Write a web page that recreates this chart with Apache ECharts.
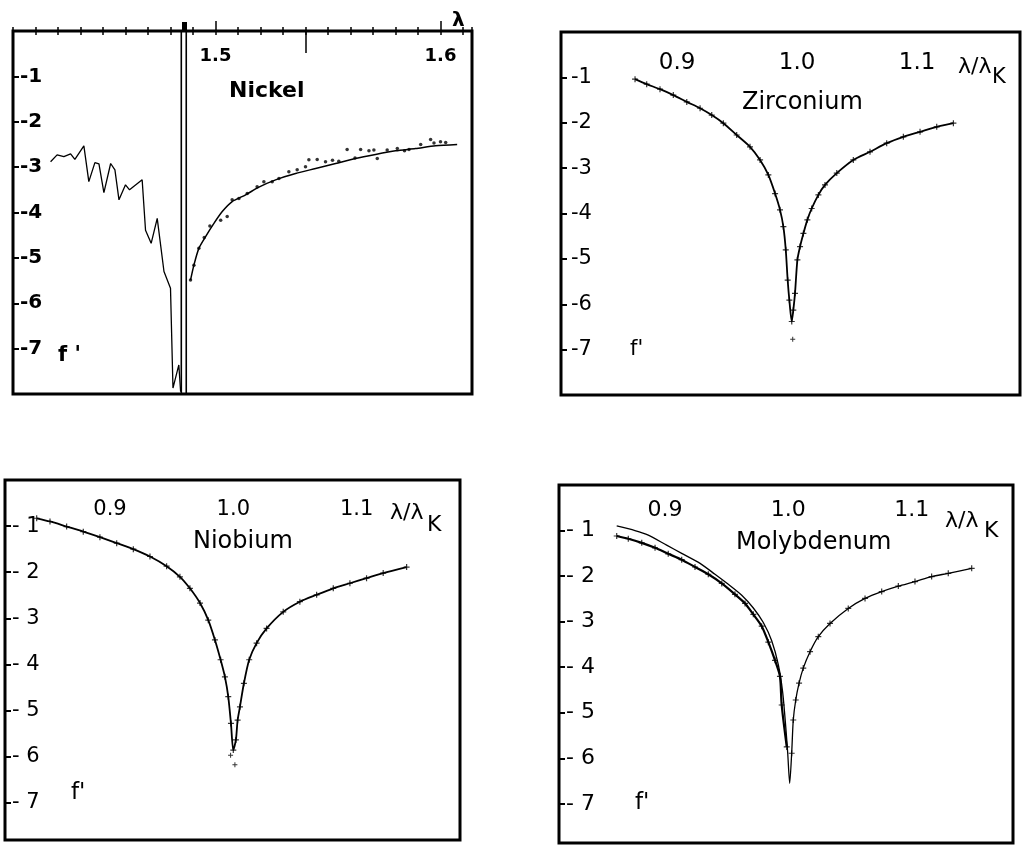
<!DOCTYPE html>
<html><head><meta charset="utf-8">
<script src="https://cdn.jsdelivr.net/npm/echarts@6/dist/echarts.min.js"></script>
<style>html,body{margin:0;padding:0;background:#fff}#c{width:1023px;height:847px}</style>
</head><body><div id="c"></div><script>
// ---------- Nickel (x = wavelength λ) ----------
const niExpX = [1.4267,1.4296,1.4326,1.4356,1.4375,1.4415,1.4437,1.4464,1.4482,1.4504,1.4534,1.4553,1.4571,1.4600,1.4618,1.4674,1.4689,1.4714,1.4741,1.4771,1.4800,1.4811,1.4837,1.4845];
const niExpY = [-2.88,-2.73,-2.77,-2.71,-2.83,-2.53,-3.32,-2.90,-2.93,-3.56,-2.92,-3.06,-3.72,-3.39,-3.50,-3.28,-4.39,-4.68,-4.13,-5.30,-5.67,-7.87,-7.36,-7.95];
const niFitX = [1.4889,1.4904,1.4926,1.4956,1.4993,1.5030,1.5074,1.5134,1.5193,1.5267,1.5356,1.5445,1.5534,1.5622,1.5711,1.5800,1.5889,1.5978,1.6074];
const niFitY = [-5.49,-5.16,-4.79,-4.53,-4.24,-3.98,-3.76,-3.61,-3.44,-3.28,-3.14,-3.03,-2.92,-2.81,-2.72,-2.64,-2.59,-2.53,-2.50];
const niObsX = [1.4889,1.4904,1.4926,1.4950,1.4975,1.5023,1.5052,1.5074,1.5104,1.5141,1.5185,1.5215,1.5252,1.5282,1.5326,1.5363,1.5400,1.5415,1.5452,1.5489,1.5520,1.5548,1.5585,1.5620,1.5645,1.5682,1.5704,1.5719,1.5763,1.5808,1.5840,1.5860,1.5912,1.5956,1.5971,1.6000,1.6023];
const niObsY = [-5.49,-5.16,-4.79,-4.55,-4.30,-4.17,-4.09,-3.72,-3.69,-3.58,-3.43,-3.32,-3.32,-3.25,-3.10,-3.06,-2.99,-2.84,-2.83,-2.88,-2.85,-2.87,-2.61,-2.80,-2.61,-2.64,-2.62,-2.81,-2.62,-2.59,-2.64,-2.61,-2.50,-2.39,-2.47,-2.44,-2.46];
const niEdgeX = [1.4848, 1.4870];
const niEdgeMark = [1.4859];
const niMajorTicks = [1.5, 1.6];
const niInnerTick = [1.54];
// ---------- Zirconium (x = λ/λK) ----------
const zrX = [0.8650,0.8747,0.8858,0.8969,0.9081,0.9192,0.9289,0.9386,0.9497,0.9608,0.9692,0.9761,0.9817,0.9858,0.9886,0.9906,0.9922,0.9936,0.9956,0.9969,0.9983,1.0003,1.0025,1.0053,1.0086,1.0122,1.0178,1.0233,1.0331,1.0469,1.0608,1.0747,1.0886,1.1025,1.1164,1.1303];
const zrY = [-1.04,-1.15,-1.26,-1.39,-1.54,-1.68,-1.83,-2.01,-2.27,-2.53,-2.82,-3.15,-3.56,-3.92,-4.29,-4.80,-5.47,-5.91,-6.38,-6.13,-5.76,-5.02,-4.73,-4.44,-4.14,-3.89,-3.59,-3.37,-3.11,-2.82,-2.64,-2.45,-2.31,-2.20,-2.09,-2.01];
const zrLoneX = [0.9964];
const zrLoneY = [-6.77];
// ---------- Niobium ----------
const nbX = [0.8405,0.8513,0.8648,0.8783,0.8918,0.9054,0.9189,0.9324,0.9459,0.9567,0.9648,0.9730,0.9797,0.9851,0.9897,0.9932,0.9959,0.9981,1.0000,1.0021,1.0035,1.0054,1.0086,1.0129,1.0189,1.0270,1.0405,1.0540,1.0676,1.0811,1.0946,1.1081,1.1216,1.1406];
const nbY = [-0.83,-0.90,-1.01,-1.12,-1.24,-1.37,-1.50,-1.66,-1.87,-2.10,-2.35,-2.67,-3.04,-3.47,-3.90,-4.27,-4.70,-5.28,-5.86,-5.64,-5.21,-4.92,-4.41,-3.90,-3.54,-3.22,-2.86,-2.64,-2.49,-2.35,-2.24,-2.13,-2.02,-1.89];
const nbLoneX = [0.9978, 1.0013];
const nbLoneY = [-5.97, -6.18];
// ---------- Molybdenum ----------
const moX = [0.8608,0.8756,0.8864,0.9013,0.9135,0.9284,0.9405,0.9513,0.9622,0.9716,0.9797,0.9865,0.9919,0.9954,0.9979,0.9995,1.0011,1.0027,1.0040,1.0060,1.0087,1.0121,1.0176,1.0243,1.0338,1.0486,1.0622,1.0757,1.0892,1.1027,1.1162,1.1297,1.1487];
const moY = [-0.90,-1.00,-1.10,-1.32,-1.50,-1.72,-1.96,-2.18,-2.42,-2.70,-3.02,-3.42,-3.95,-4.55,-5.31,-5.89,-6.55,-5.89,-5.16,-4.72,-4.35,-4.02,-3.66,-3.33,-3.04,-2.71,-2.49,-2.34,-2.22,-2.12,-2.01,-1.94,-1.83];
const moObsLeftX = [0.8608,0.8702,0.8811,0.8919,0.9026,0.9135,0.9243,0.9351,0.9460,0.9567,0.9649,0.9716,0.9784,0.9838,0.9892,0.9932,0.9946,0.9987];
const moObsLeftY = [-1.12,-1.18,-1.27,-1.38,-1.51,-1.64,-1.80,-1.96,-2.16,-2.40,-2.60,-2.84,-3.10,-3.45,-3.85,-4.20,-4.83,-5.75];
// ---------- shared tick labels ----------
const ratioTicks = [0.9, 1.0, 1.1];
const fTicks = [-1, -2, -3, -4, -5, -6, -7];

const zip = (xs, ys) => xs.map((x, i) => [x, ys[i]]);
const FONT = 'DejaVu Sans';
const PLUS = 'path://M4,0H6V4H10V6H6V10H4V6H0V4H4Z';
const txt = (size, bold) => ({fontFamily: FONT, fontSize: size, fontWeight: bold ? 'bold' : 'normal', color: '#000'});

function gridBox(left, top, width, height) {
  return {left, top, width, height, show: true, borderColor: '#000', borderWidth: 3, backgroundColor: 'transparent', containLabel: false};
}
function ratioX(grid, min, max, size, margin) {
  return {type: 'value', gridIndex: grid, position: 'top', min, max,
    axisLine: {show: false}, splitLine: {show: false},
    axisTick: {show: false},
    axisLabel: {inside: true, margin, customValues: ratioTicks, formatter: v => v.toFixed(1), ...txt(size)}};
}
function fY(grid, min, size, margin, spaced, bold) {
  return {type: 'value', gridIndex: grid, min, max: 0,
    axisLine: {show: false}, splitLine: {show: false},
    axisTick: {show: true, inside: true, length: 6, customValues: fTicks, lineStyle: {color: '#000', width: 2}},
    axisLabel: {inside: true, margin, customValues: fTicks,
      formatter: v => spaced ? '- ' + Math.abs(v) : String(v), ...txt(size, bold)}};
}
function niAxis(extra) {
  return Object.assign({type: 'value', gridIndex: 0, position: 'top', min: 1.41, max: 1.614,
    axisLine: {show: false}, splitLine: {show: false}, axisLabel: {show: false}}, extra);
}
function curve(xi, yi, data, w, smooth) {
  return {type: 'line', xAxisIndex: xi, yAxisIndex: yi, data, smooth: smooth === undefined ? 0.25 : smooth, symbol: 'none',
    lineStyle: {color: '#000', width: w || 1.4}, silent: true, animation: false};
}
function pts(xi, yi, data, sym, size) {
  return {type: 'scatter', xAxisIndex: xi, yAxisIndex: yi, data, symbol: sym, symbolSize: size,
    itemStyle: {color: '#000'}, silent: true, animation: false};
}

const option = {
  backgroundColor: '#fff',
  animation: false,
  grid: [gridBox(13, 31, 459, 363), gridBox(561, 32, 459, 363), gridBox(5, 480, 455, 360), gridBox(559, 485, 454, 358)],
  xAxis: [
    niAxis({interval: 0.01, axisTick: {show: true, length: 4, lineStyle: {color: '#000', width: 1.5}}}),
    niAxis({axisTick: {show: true, length: 10, customValues: niMajorTicks, lineStyle: {color: '#000', width: 1.5}},
      axisLabel: {inside: true, margin: 16, customValues: niMajorTicks, formatter: v => v.toFixed(1), ...txt(18, true)}}),
    niAxis({axisTick: {show: true, inside: true, length: 22, customValues: niInnerTick, lineStyle: {color: '#000', width: 1.5}}}),
    ratioX(1, 0.8033, 1.1858, 23, 20),
    ratioX(2, 0.8148, 1.1839, 21, 19),
    ratioX(3, 0.814, 1.1822, 22, 14),
    niAxis({axisTick: {show: true, length: 9, customValues: niEdgeMark, lineStyle: {color: '#000', width: 5}}}),
    niAxis({interval: 0.01, axisTick: {show: true, inside: true, length: 4, lineStyle: {color: '#000', width: 1.5}}})
  ],
  yAxis: [
    fY(0, -8, 20, 7, false, true),
    fY(1, -8, 21, 10, false, false),
    fY(2, -7.81, 21, 7, true, false),
    fY(3, -7.86, 22, 7, true, false)
  ],
  title: [
    {text: 'Nickel', left: 224, top: 75, textStyle: txt(22, true)},
    {text: 'λ', left: 447, top: 6, textStyle: txt(20, true)},
    {text: "f '", left: 53, top: 340, textStyle: txt(21, true)},
    {text: 'Zirconium', left: 737, top: 86, textStyle: txt(24)},
    {text: 'λ/λ', left: 953, top: 51, textStyle: txt(22)},
    {text: 'K', left: 987, top: 62, textStyle: txt(21)},
    {text: "f'", left: 625, top: 334, textStyle: txt(21)},
    {text: 'Niobium', left: 188, top: 525, textStyle: txt(24)},
    {text: 'λ/λ', left: 385, top: 497, textStyle: txt(22)},
    {text: 'K', left: 422, top: 509, textStyle: txt(22)},
    {text: "f'", left: 66, top: 777, textStyle: txt(23)},
    {text: 'Molybdenum', left: 731, top: 526, textStyle: txt(24)},
    {text: 'λ/λ', left: 940, top: 505, textStyle: txt(22)},
    {text: 'K', left: 979, top: 515, textStyle: txt(22)},
    {text: "f'", left: 630, top: 787, textStyle: txt(23)}
  ],
  series: [
    curve(0, 0, zip(niExpX, niExpY), 1.3, false),
    curve(0, 0, niEdgeX.slice(0, 1).flatMap(x => [[x, 0], [x, -8]]), 1.6, false),
    curve(0, 0, niEdgeX.slice(1, 2).flatMap(x => [[x, 0], [x, -8]]), 1.6, false),
    curve(0, 0, zip(niFitX, niFitY), 1.5),
    pts(0, 0, zip(niObsX, niObsY), 'circle', 3.5),
    curve(3, 1, zip(zrX, zrY), 1.8),
    pts(3, 1, zip(zrX, zrY), PLUS, 6),
    pts(3, 1, zip(zrLoneX, zrLoneY), PLUS, 5),
    curve(4, 2, zip(nbX, nbY), 1.8),
    pts(4, 2, zip(nbX, nbY), PLUS, 6),
    pts(4, 2, zip(nbLoneX, nbLoneY), PLUS, 5),
    curve(5, 3, zip(moX, moY), 1.3),
    curve(5, 3, zip(moObsLeftX, moObsLeftY), 2.2),
    pts(5, 3, zip(moObsLeftX, moObsLeftY), PLUS, 6),
    pts(5, 3, zip(moX.slice(17), moY.slice(17)), PLUS, 6)
  ]
};
const chart = echarts.init(document.getElementById('c'), null, {renderer: 'canvas'});
chart.setOption(option);
</script></body></html>
